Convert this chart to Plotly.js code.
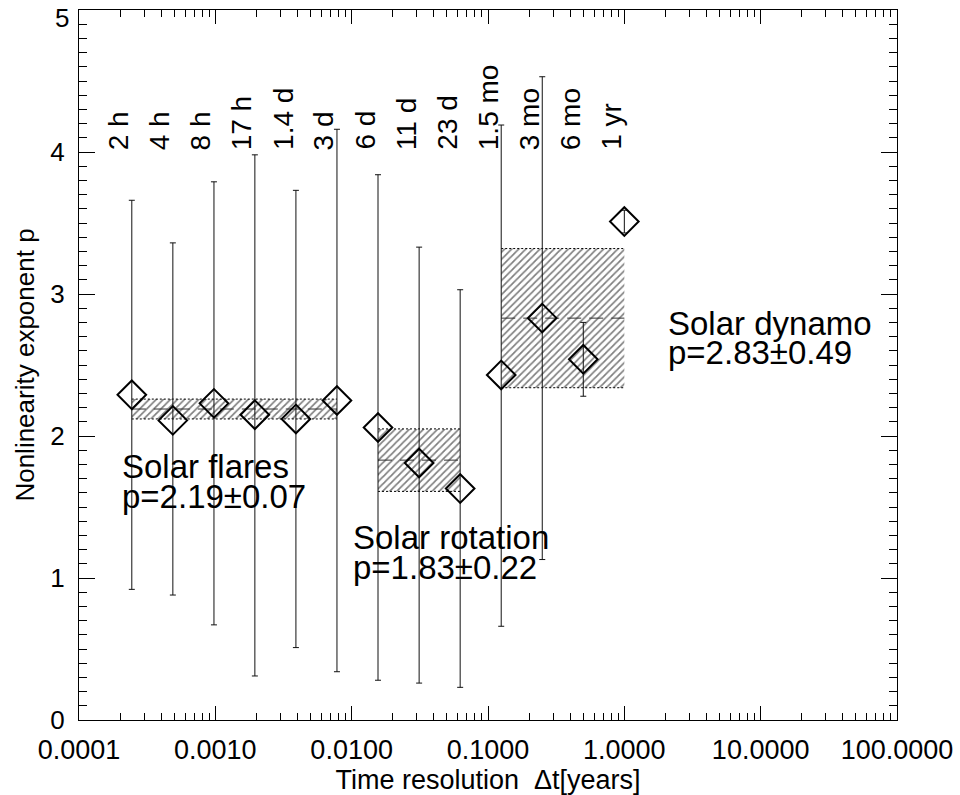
<!DOCTYPE html>
<html>
<head>
<meta charset="utf-8">
<script src="https://cdn.plot.ly/plotly-3.0.1.min.js"></script>
<style>
  html, body { margin: 0; padding: 0; background: #fff; }
  #chart { width: 960px; height: 795px; }
</style>
</head>
<body>
<div id="chart"></div>
<script>
// ---- data ----
const timeLabels = ['2 h', '4 h', '8 h', '17 h', '1.4 d', '3 d', '6 d', '11 d', '23 d', '1.5 mo', '3 mo', '6 mo', '1 yr'];
const dtYears = [0.000244, 0.000488, 0.000977, 0.00195, 0.0039, 0.0078, 0.0156, 0.03125, 0.0625, 0.125, 0.25, 0.5, 1.0];
const pValue = [2.29, 2.11, 2.23, 2.15, 2.12, 2.25, 2.06, 1.81, 1.63, 2.43, 2.83, 2.54, 3.51];
const pUpper = [3.66, 3.36, 3.79, 3.98, 3.73, 4.16, 3.84, 3.33, 3.03, 4.19, 4.53, 2.80, 3.59];
const pLower = [0.92, 0.88, 0.67, 0.31, 0.51, 0.34, 0.28, 0.26, 0.23, 0.66, 1.13, 2.28, 3.43];

const fitNames = ['Solar flares', 'Solar rotation', 'Solar dynamo'];
const fitMean = [2.19, 1.83, 2.83];
const fitSigma = [0.07, 0.22, 0.49];
const fitFirst = [0, 6, 9];   // index into dtYears
const fitLast = [5, 8, 12];

const xTickVals = [0.0001, 0.001, 0.01, 0.1, 1, 10, 100];
const xTickText = ['0.0001', '0.0010', '0.0100', '0.1000', '1.0000', '10.0000', '100.0000'];
const yTickVals = [0, 1, 2, 3, 4, 5];

// ---- styling / layout helpers ----
const FONT = 'Liberation Sans, Arial, Helvetica, sans-serif';
const minorX = [];
for (let d = -4; d < 2; d++) for (let k = 2; k <= 9; k++) minorX.push(k * Math.pow(10, d));

// label placement (paper coords) for the fit annotations
const fitLabelPos = [
  {x: 0.050, y1: 0.357, y2: 0.315},
  {x: 0.333, y1: 0.257, y2: 0.215},
  {x: 0.717, y1: 0.559, y2: 0.518}
];

const traces = [];

// hatched boxes
fitNames.forEach((name, i) => {
  const x0 = dtYears[fitFirst[i]], x1 = dtYears[fitLast[i]];
  const lo = fitMean[i] - fitSigma[i], hi = fitMean[i] + fitSigma[i];
  traces.push({
    x: [x0, x1, x1, x0, x0], y: [lo, lo, hi, hi, lo],
    mode: 'lines', fill: 'toself', line: {width: 0, color: 'rgba(0,0,0,0)'},
    fillcolor: 'rgba(0,0,0,0)',
    fillpattern: {shape: '/', fgcolor: '#000', bgcolor: 'rgba(0,0,0,0)', size: 5, solidity: 0.34, fillmode: 'overlay'},
    hoverinfo: 'skip', showlegend: false
  });
  [lo, hi].forEach(v => traces.push({
    x: [x0, x1], y: [v, v], mode: 'lines',
    line: {color: '#000', width: 1, dash: '2px,2px'}, hoverinfo: 'skip', showlegend: false
  }));
  traces.push({
    x: [x0, x1], y: [fitMean[i], fitMean[i]], mode: 'lines',
    line: {color: '#333', width: 1, dash: '14px,8px'}, hoverinfo: 'skip', showlegend: false
  });
});

// points with error bars
traces.push({
  x: dtYears, y: pValue, mode: 'markers', type: 'scatter',
  marker: {symbol: 'diamond-open', size: 22, color: '#000', line: {width: 2, color: '#000'}},
  error_y: {
    type: 'data', symmetric: false,
    array: pUpper.map((u, i) => u - pValue[i]),
    arrayminus: pLower.map((l, i) => pValue[i] - l),
    color: '#111', thickness: 1, width: 3
  },
  hoverinfo: 'skip', showlegend: false
});

const annotations = [];
timeLabels.forEach((t, i) => annotations.push({
  text: t, x: Math.log10(dtYears[i]), y: 4.0, xref: 'x', yref: 'y',
  xanchor: 'center', yanchor: 'bottom', xshift: -13, textangle: -90,
  showarrow: false, font: {family: FONT, size: 28, color: '#000'}
}));
fitNames.forEach((name, i) => {
  const p = fitLabelPos[i];
  annotations.push({
    text: name, x: p.x, y: p.y1, xref: 'paper', yref: 'paper',
    xanchor: 'left', yanchor: 'middle', showarrow: false,
    font: {family: FONT, size: 33, color: '#000'}
  });
  annotations.push({
    text: 'p=' + fitMean[i].toFixed(2) + '±' + fitSigma[i].toFixed(2),
    x: p.x, y: p.y2, xref: 'paper', yref: 'paper',
    xanchor: 'left', yanchor: 'middle', showarrow: false,
    font: {family: FONT, size: 33, color: '#000'}
  });
});
// top y tick label, drawn just inside the frame so it is not clipped
const yTop = yTickVals[yTickVals.length - 1];
annotations.push({
  text: String(yTop), x: 0, y: yTop, xref: 'paper', yref: 'y',
  xanchor: 'right', yanchor: 'middle', xshift: -8, yshift: -8,
  showarrow: false, font: {family: FONT, size: 26, color: '#000'}
});

const layout = {
  width: 960, height: 795,
  margin: {l: 79, r: 63, t: 10, b: 75},
  paper_bgcolor: '#fff', plot_bgcolor: '#fff',
  font: {family: FONT, color: '#000'},
  showlegend: false,
  xaxis: {
    type: 'log', range: [-4, 2], autorange: false,
    tickmode: 'array', tickvals: xTickVals, ticktext: xTickText,
    ticks: 'inside', ticklen: 14, tickwidth: 1, tickcolor: '#000',
    showline: true, linecolor: '#000', linewidth: 1, mirror: 'allticks',
    showgrid: false, zeroline: false,
    minor: {tickmode: 'array', tickvals: minorX, ticks: 'inside', ticklen: 7, tickwidth: 1, tickcolor: '#000', showgrid: false},
    tickfont: {family: FONT, size: 27, color: '#000'},
    ticklabelstandoff: 6, ticklabeloverflow: 'allow',
    title: {text: 'Time resolution\u00a0\u00a0Δt[years]', font: {family: FONT, size: 27, color: '#000'}, standoff: 0}
  },
  yaxis: {
    range: [0, 5], autorange: false,
    tickmode: 'array', tickvals: yTickVals,
    ticktext: yTickVals.map(v => v === yTop ? '' : String(v)),
    ticks: 'inside', ticklen: 16, tickwidth: 1, tickcolor: '#000',
    showline: true, linecolor: '#000', linewidth: 1, mirror: 'allticks',
    showgrid: false, zeroline: false,
    minor: {dtick: 0.1, ticks: 'inside', ticklen: 8, tickwidth: 1, tickcolor: '#000', showgrid: false},
    tickfont: {family: FONT, size: 26, color: '#000'},
    ticklabelstandoff: 8, ticklabeloverflow: 'allow',
    title: {text: 'Nonlinearity exponent p', font: {family: FONT, size: 26, color: '#000'}, standoff: 8}
  },
  annotations: annotations
};

Plotly.newPlot('chart', traces, layout, {staticPlot: true, displayModeBar: false});
</script>
</body>
</html>
